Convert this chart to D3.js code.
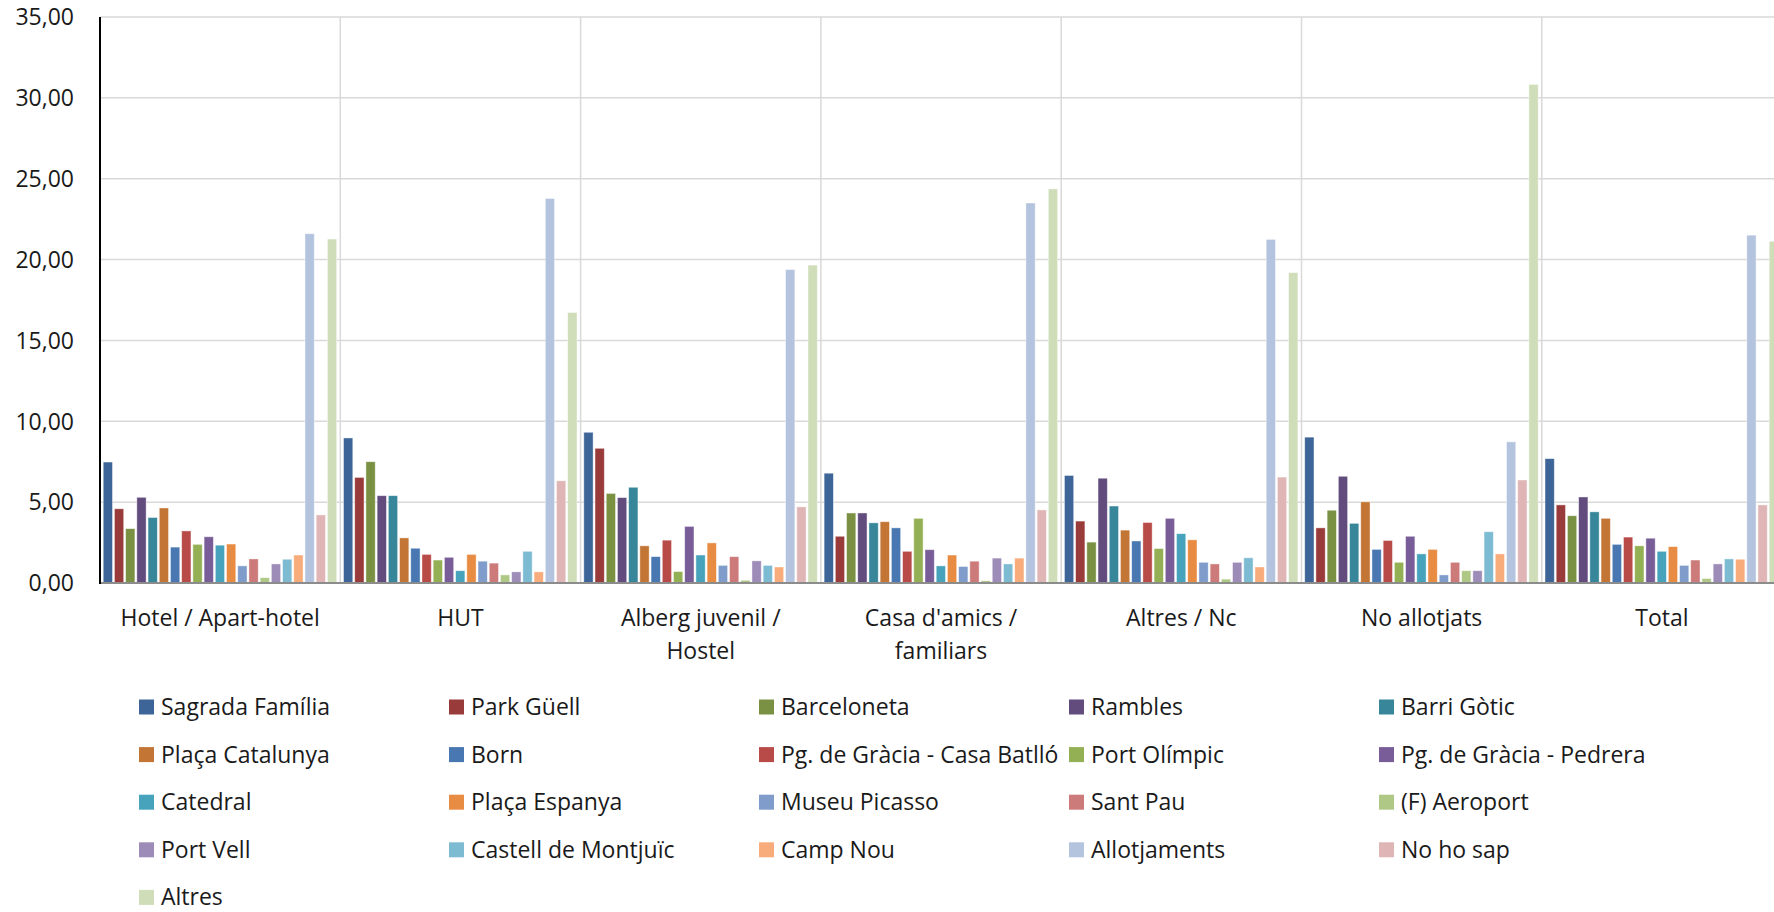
<!DOCTYPE html>
<html>
<head>
<meta charset="utf-8">
<script src="https://cdn.jsdelivr.net/npm/d3@7"></script>
<style>
  body { margin: 0; background: #fff; overflow: hidden; }
  text { font-family: "Open Sans", Lato, sans-serif; fill: #1a1a1a; }
</style>
</head>
<body>
<svg id="chart" width="1774" height="912"></svg>
<script>
// categories de l'axe X (les lignes de texte sont deja coupees comme dans l'original)
var categories = ["Hotel / Apart-hotel", "HUT", "Alberg juvenil / Hostel", "Casa d'amics / familiars",
                  "Altres / Nc", "No allotjats", "Total"];
var categoryLines = [["Hotel / Apart-hotel"], ["HUT"], ["Alberg juvenil /", "Hostel"], ["Casa d'amics /", "familiars"],
                     ["Altres / Nc"], ["No allotjats"], ["Total"]];

// les 21 series (lieux)
var series = ["Sagrada Família", "Park Güell", "Barceloneta", "Rambles", "Barri Gòtic",
              "Plaça Catalunya", "Born", "Pg. de Gràcia - Casa Batlló", "Port Olímpic", "Pg. de Gràcia - Pedrera",
              "Catedral", "Plaça Espanya", "Museu Picasso", "Sant Pau", "(F) Aeroport",
              "Port Vell", "Castell de Montjuïc", "Camp Nou", "Allotjaments", "No ho sap",
              "Altres"];

var seriesColors = ["#3d6597", "#993b3a", "#7a9143", "#624c7e", "#378699",
                    "#c37535", "#4877b1", "#b84a48", "#94b055", "#785d98",
                    "#47a3bc", "#e88c43", "#7f9ccb", "#cc7b7a", "#afc886",
                    "#9d8cb8", "#7dbbd2", "#f8ab7b", "#b5c4de", "#dfb6b5",
                    "#cfddb9"];

// valeurs (%) par categorie, dans l'ordre des series
var hotel       = [7.48, 4.59, 3.36, 5.30, 4.05, 4.64, 2.22, 3.22, 2.39, 2.86, 2.34, 2.41, 1.06, 1.49, 0.33, 1.18, 1.47, 1.73, 21.60, 4.21, 21.27];
var hut         = [8.97, 6.53, 7.50, 5.40, 5.40, 2.79, 2.15, 1.77, 1.42, 1.59, 0.76, 1.77, 1.35, 1.23, 0.50, 0.69, 1.96, 0.69, 23.78, 6.32, 16.73];
var alberg      = [9.32, 8.33, 5.54, 5.28, 5.92, 2.30, 1.63, 2.65, 0.71, 3.50, 1.73, 2.48, 1.09, 1.63, 0.17, 1.37, 1.09, 0.99, 19.38, 4.71, 19.66];
var casaAmics   = [6.79, 2.89, 4.33, 4.33, 3.72, 3.79, 3.41, 1.96, 4.00, 2.06, 1.06, 1.73, 1.02, 1.35, 0.14, 1.54, 1.18, 1.54, 23.50, 4.52, 24.37];
var altresNc    = [6.65, 3.83, 2.53, 6.48, 4.76, 3.27, 2.60, 3.74, 2.13, 4.00, 3.05, 2.67, 1.28, 1.18, 0.24, 1.28, 1.56, 0.99, 21.25, 6.55, 19.19];
var noAllotjats = [9.02, 3.41, 4.50, 6.60, 3.69, 5.02, 2.08, 2.63, 1.28, 2.89, 1.80, 2.08, 0.50, 1.28, 0.76, 0.76, 3.17, 1.80, 8.73, 6.37, 30.83];
var total       = [7.69, 4.83, 4.16, 5.32, 4.40, 4.00, 2.39, 2.84, 2.30, 2.77, 1.96, 2.25, 1.09, 1.42, 0.28, 1.18, 1.49, 1.47, 21.51, 4.83, 21.13];

var yTicks = [0, 5, 10, 15, 20, 25, 30, 35];

var valuesByCategory = [hotel, hut, alberg, casaAmics, altresNc, noAllotjats, total];

function drawChart() {
    var svg = d3.select("#chart");
    var W = 1774, H = 912;
    svg.append("rect").attr("width", W).attr("height", H).attr("fill", "#fff");

    // zone du graphique : la derniere categorie deborde a droite comme dans l'original
    var mLeft = 100, mTop = 17, mBottom = 583;
    var bandW = 240.3;

    var x = d3.scaleBand()
        .domain(categories)
        .range([mLeft, mLeft + bandW * categories.length])
        .padding(0);

    var xInner = d3.scaleBand()
        .domain(d3.range(series.length))
        .range([3.2, bandW - 3.6])
        .paddingInner(0.17)
        .paddingOuter(0);

    var y = d3.scaleLinear().domain([0, 35]).range([mBottom, mTop]);

    var locale = d3.formatLocale({decimal: ",", thousands: ".", grouping: [3], currency: ["", " €"]});
    var fmt = locale.format(".2f");

    // grille horizontale
    svg.append("g")
      .selectAll("line")
      .data(yTicks)
      .enter()
      .append("line")
        .attr("x1", mLeft)
        .attr("x2", x.range()[1])
        .attr("y1", d => y(d))
        .attr("y2", d => y(d))
        .attr("stroke", "#d9d9d9")
        .attr("stroke-width", 1.5);

    // separateurs verticaux entre categories
    svg.append("g")
      .selectAll("line")
      .data(categories.slice(1))
      .enter()
      .append("line")
        .attr("x1", d => x(d))
        .attr("x2", d => x(d))
        .attr("y1", mTop)
        .attr("y2", mBottom)
        .attr("stroke", "#d9d9d9")
        .attr("stroke-width", 1.5);

    // barres
    var groups = svg.append("g")
      .selectAll("g")
      .data(categories)
      .enter()
      .append("g")
        .attr("transform", d => `translate(${x(d)},0)`);

    groups.selectAll("rect")
      .data((d, i) => valuesByCategory[i].map((v, k) => ({k: k, v: v})))
      .enter()
      .append("rect")
        .attr("x", d => xInner(d.k))
        .attr("y", d => y(d.v))
        .attr("width", xInner.bandwidth())
        .attr("height", d => mBottom - y(d.v))
        .attr("fill", d => seriesColors[d.k])
        .attr("stroke", "#ffffff")
        .attr("stroke-opacity", 0.55)
        .attr("stroke-width", 0.8);

    // axe X (ligne grise)
    svg.append("line")
        .attr("x1", mLeft)
        .attr("x2", x.range()[1])
        .attr("y1", mBottom)
        .attr("y2", mBottom)
        .attr("stroke", "#8c8c8c")
        .attr("stroke-width", 2);

    // axe Y (ligne noire)
    svg.append("line")
        .attr("x1", mLeft)
        .attr("x2", mLeft)
        .attr("y1", mTop)
        .attr("y2", mBottom + 1)
        .attr("stroke", "#000")
        .attr("stroke-width", 2);

    // etiquettes Y
    svg.append("g")
      .selectAll("text")
      .data(yTicks)
      .enter()
      .append("text")
        .attr("x", mLeft - 26)
        .attr("y", d => y(d))
        .attr("dy", "0.36em")
        .attr("text-anchor", "end")
        .style("font-size", "23px")
        .text(d => fmt(d));

    // etiquettes X
    var lbl = svg.append("g")
      .selectAll("text")
      .data(categories)
      .enter()
      .append("text")
        .attr("x", d => x(d) + x.bandwidth() / 2)
        .attr("y", 626)
        .attr("text-anchor", "middle")
        .style("font-size", "23px");

    lbl.selectAll("tspan")
      .data((d, i) => categoryLines[i])
      .enter()
      .append("tspan")
        .attr("x", function() { return d3.select(this.parentNode).attr("x"); })
        .attr("dy", (d, j) => j === 0 ? 0 : 32.5)
        .text(d => d);

    // legende : 5 colonnes
    var legend = svg.append("g")
      .selectAll("g")
      .data(series)
      .enter()
      .append("g")
        .attr("transform", (d, i) => `translate(${139 + (i % 5) * 310},${707 + Math.floor(i / 5) * 47.6})`);

    legend.append("rect")
        .attr("x", 0)
        .attr("y", -7.5)
        .attr("width", 15)
        .attr("height", 15)
        .attr("fill", (d, i) => seriesColors[i]);

    legend.append("text")
        .attr("x", 22)
        .attr("y", 0)
        .attr("dy", "0.35em")
        .style("font-size", "23px")
        .text(d => d);
}

drawChart();
</script>
</body>
</html>
